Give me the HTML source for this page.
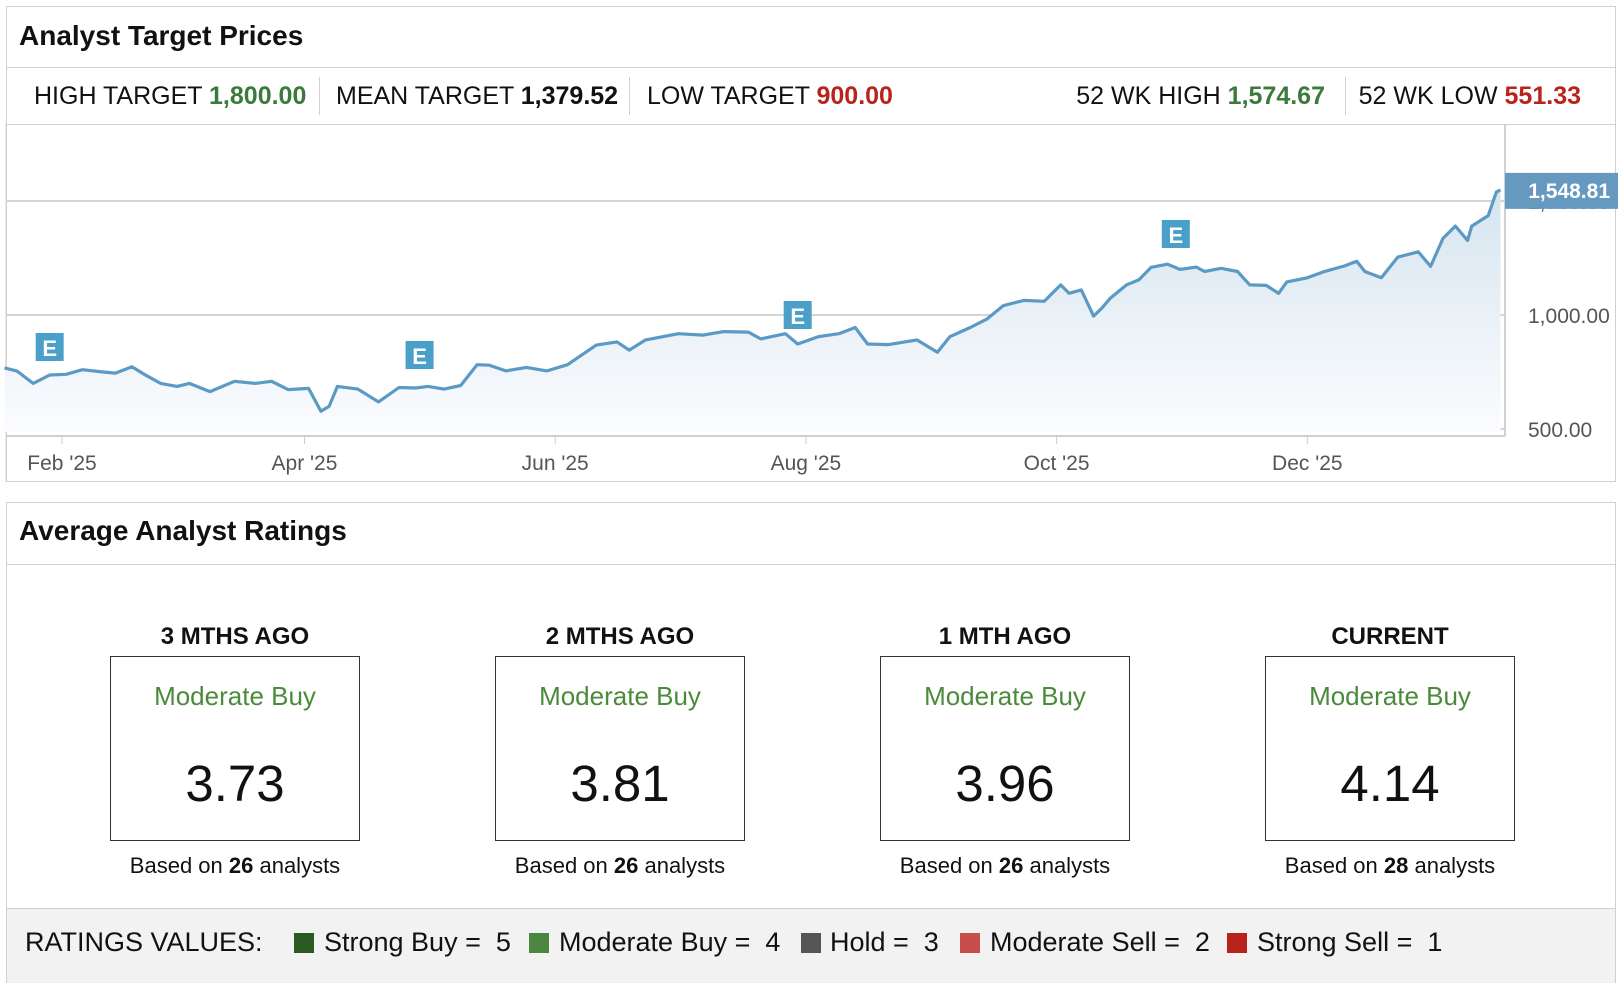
<!DOCTYPE html>
<html><head><meta charset="utf-8"><style>
body{margin:0;width:1623px;height:989px;background:#fff;font-family:"Liberation Sans",sans-serif;position:relative;overflow:hidden;color:#111}
.a{position:absolute;white-space:nowrap}
.stat{font-size:25px;top:82px}
.b{font-weight:bold}
.g{color:#3a7a3a}.r{color:#b8231c}
.sep{position:absolute;width:1px;background:#d0d0d0;top:77px;height:38px}
.hdr{font-size:24px;font-weight:bold;width:250px;text-align:center;top:623px}
.box{position:absolute;top:656px;width:250px;height:185px;border:1px solid #333;box-sizing:border-box}
.mb{font-size:26px;color:#4a8a3a;width:250px;text-align:center;top:681px}
.num{font-size:51px;width:250px;text-align:center;top:754px}
.bo{font-size:22px;width:250px;text-align:center;top:853px}
.lg{font-size:27px;top:927px}
.sq{position:absolute;width:20px;height:20px;top:933px}
</style></head><body>
<div class="a" style="left:6px;top:6px;width:1610px;height:476px;border:1px solid #d0d0d0;box-sizing:border-box"></div>
<div class="a b" style="left:19px;top:20px;font-size:28px">Analyst Target Prices</div>
<div class="a" style="left:6px;top:67px;width:1610px;height:1px;background:#d0d0d0"></div>
<div class="a" style="left:6px;top:124px;width:1610px;height:1px;background:#d0d0d0"></div>
<div class="a stat" style="left:34px">HIGH TARGET <span class="b g">1,800.00</span></div>
<div class="sep" style="left:319px"></div>
<div class="a stat" style="left:336px">MEAN TARGET <span class="b">1,379.52</span></div>
<div class="sep" style="left:629px"></div>
<div class="a stat" style="left:647px">LOW TARGET <span class="b r">900.00</span></div>
<div class="a stat" style="right:298px">52 WK HIGH <span class="b g">1,574.67</span></div>
<div class="sep" style="left:1345px"></div>
<div class="a stat" style="right:42px">52 WK LOW <span class="b r">551.33</span></div>

<svg class="a" style="left:0;top:0" width="1623" height="482">
<defs><linearGradient id="fg" x1="0" y1="0" x2="0" y2="1"><stop offset="0" stop-color="#d6e4ef"/><stop offset="1" stop-color="#fbfcfe"/></linearGradient></defs>
<g id="grid"></g><path id="area" fill="url(#fg)"/><path id="line" fill="none" stroke="#5b9ac4" stroke-width="3.2" stroke-linejoin="round"/>
<g id="marks"></g><g id="xaxis"></g>
</svg>

<div class="a" style="left:6px;top:502px;width:1610px;height:481px;border:1px solid #d0d0d0;box-sizing:border-box"></div>
<div class="a b" style="left:19px;top:515px;font-size:28px">Average Analyst Ratings</div>
<div class="a" style="left:6px;top:564px;width:1610px;height:1px;background:#d0d0d0"></div>
<div id="cards"></div>
<div class="a" style="left:7px;top:908px;width:1608px;height:74px;background:#f2f2f2;border-top:1px solid #d0d0d0"></div>
<div class="a lg" style="left:25px">RATINGS VALUES:</div>
<div class="sq" style="left:294px;background:#2a5a22"></div><div class="a lg" style="left:324px">Strong Buy =&nbsp; 5</div>
<div class="sq" style="left:529px;background:#4b8740"></div><div class="a lg" style="left:559px">Moderate Buy =&nbsp; 4</div>
<div class="sq" style="left:801px;background:#555"></div><div class="a lg" style="left:830px">Hold =&nbsp; 3</div>
<div class="sq" style="left:960px;background:#c94d4a"></div><div class="a lg" style="left:990px">Moderate Sell =&nbsp; 2</div>
<div class="sq" style="left:1227px;background:#b8231c"></div><div class="a lg" style="left:1257px">Strong Sell =&nbsp; 1</div>

<script>
const days=[-14,-11,-7,-3,1,5,10,13,17,20,24,28,31,36,42,47,51,55,60,63,65,67,72,77,82,86,89,93,97,101,104,108,113,118,123,130,135,138,142,150,156,161,167,170,176,179,184,189,193,196,201,208,213,216,221,225,229,234,239,243,245,248,251,253,255,259,262,265,269,272,276,278,282,286,289,293,296,298,303,307,312,315,317,321,325,330,333,336,339,342,343,347,349,350];
const prices=[768,755,700,737,740,760,750,745,773,740,700,687,700,664,709,700,709,673,678,578,600,687,675,619,682,680,687,675,691,782,780,755,770,755,782,868,882,846,891,918,912,927,925,895,918,873,905,918,945,873,870,891,837,905,945,982,1041,1064,1060,1132,1095,1110,995,1030,1073,1132,1154,1209,1223,1200,1210,1191,1205,1191,1132,1130,1095,1145,1163,1190,1215,1236,1191,1163,1254,1277,1213,1336,1390,1327,1390,1436,1540,1548.81];
const yTicks=[500,1000,1500];
const xTickDays=[0,59,120,181,242,303];
const xTickLabels=["Feb '25","Apr '25","Jun '25","Aug '25","Oct '25","Dec '25"];
const earnDays=[-3,87,179,271];
const earnY=[347,355,315,234];
const periods=["3 MTHS AGO","2 MTHS AGO","1 MTH AGO","CURRENT"];
const ratingLabels=["Moderate Buy","Moderate Buy","Moderate Buy","Moderate Buy"];
const ratings=[3.73,3.81,3.96,4.14];
const analysts=[26,26,26,28];

const X=d=>62+d*4.11;
const Y=v=>315-(v-1000)*0.228;
const ns="http://www.w3.org/2000/svg";
function mk(t,a,p){const e=document.createElementNS(ns,t);for(const k in a)e.setAttribute(k,a[k]);p.appendChild(e);return e;}
const grid=document.getElementById('grid'),xa=document.getElementById('xaxis'),mg=document.getElementById('marks');
yTicks.forEach(v=>{
 mk('line',{x1:6,x2:1505,y1:Y(v),y2:Y(v),stroke:'#d4d4d4','stroke-width':2},grid);
 const t=mk('text',{x:1528,y:Y(v)+8,'font-size':21,fill:'#555','font-family':'Liberation Sans'},grid);t.textContent=v.toLocaleString('en-US',{minimumFractionDigits:2});
 
 
});
mk('line',{x1:1505,x2:1505,y1:124,y2:436,stroke:'#d0d0d0','stroke-width':2},grid);
mk('line',{x1:6,x2:1505,y1:436,y2:436,stroke:'#d0d0d0','stroke-width':2},grid);
mk('line',{x1:6,x2:6,y1:124,y2:482,stroke:'#d0d0d0','stroke-width':1},grid);
xTickDays.forEach((d,i)=>{
 mk('line',{x1:X(d),x2:X(d),y1:436,y2:444,stroke:'#ccc'},xa);
 const t=mk('text',{x:X(d),y:470,'font-size':21,fill:'#555','text-anchor':'middle','font-family':'Liberation Sans'},xa);t.textContent=xTickLabels[i];
 
 
});
let d='';days.forEach((dd,i)=>{d+=(i?'L':'M')+X(dd).toFixed(1)+','+Y(prices[i]).toFixed(1);});
document.getElementById('line').setAttribute('d',d);
document.getElementById('area').setAttribute('d',d+'L'+X(days[days.length-1])+',432L'+X(days[0])+',432Z');
earnDays.forEach((dd,i)=>{
 const g=mk('g',{},mg);
 
 
 mk('rect',{x:X(dd)-14,y:earnY[i]-14,width:28,height:28,fill:'#4aa0c8'},g);
 const t=mk('text',{x:X(dd),y:earnY[i]+9,'font-size':22,'font-weight':'bold',fill:'#fff','text-anchor':'middle','font-family':'Liberation Sans'},g);t.textContent='E';
});
const last=prices[prices.length-1];
const tg=mk('g',{},mg);


mk('rect',{x:1505,y:Y(last)-17,width:113,height:36,fill:'#6699c0'},tg);
const lt=mk('text',{x:1610,y:Y(last)+8,'font-size':21,'font-weight':'bold',fill:'#fff','text-anchor':'end','font-family':'Liberation Sans'},tg);
lt.textContent=last.toLocaleString('en-US',{minimumFractionDigits:2});
const cards=document.getElementById('cards');
const cx=[235,620,1005,1390];
periods.forEach((p,i)=>{
 const l=cx[i]-125;
 cards.insertAdjacentHTML('beforeend',
 `<div class="a hdr" style="left:${l}px">${p}</div>`+
 `<div class="box" style="left:${l}px"></div>`+
 `<div class="a mb" style="left:${l}px">${ratingLabels[i]}</div>`+
 `<div class="a num" style="left:${l}px">${ratings[i].toFixed(2)}</div>`+
 `<div class="a bo" style="left:${l}px">Based on <b>${analysts[i]}</b> analysts</div>`);
});
</script>
</body></html>
